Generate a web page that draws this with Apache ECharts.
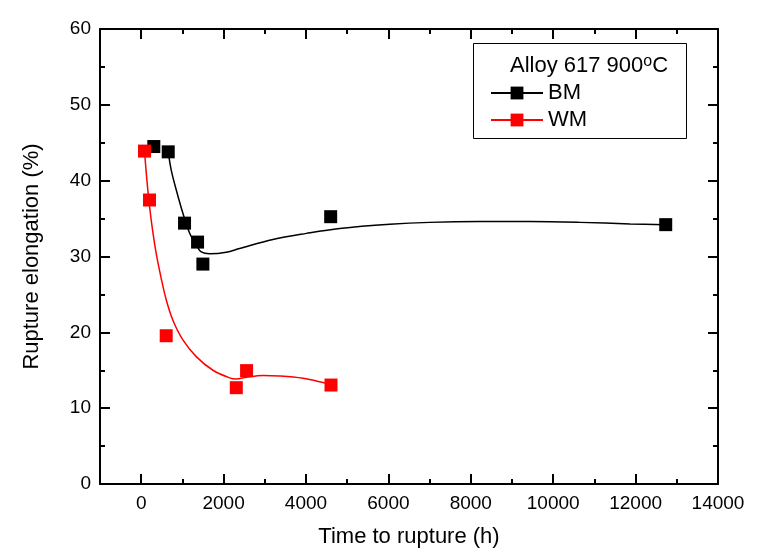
<!DOCTYPE html>
<html><head><meta charset="utf-8">
<script src="https://cdn.jsdelivr.net/npm/echarts@6/dist/echarts.min.js"></script>
<style>html,body{margin:0;padding:0;background:#fff}#c{width:761px;height:558px}</style>
</head><body><div id="c"></div>
<script>
// ---- data ----
const xMajorTicks = [0, 2000, 4000, 6000, 8000, 10000, 12000, 14000];
const xMinorTicks = [1000, 3000, 5000, 7000, 9000, 11000, 13000];

const bmTime  = [306, 656, 1052, 1368, 1497, 4599, 12731];
const bmElong = [44.5, 43.8, 34.4, 31.9, 29.0, 35.25, 34.2];

const wmTime  = [80, 202, 607, 2308, 2558, 4607];
const wmElong = [43.9, 37.45, 19.55, 12.7, 14.95, 13.05];

// fitted curves
const bmFitTime  = [656, 729, 850, 1012, 1174, 1336, 1458, 1659, 2065, 2388, 3197, 4009, 4818, 6033, 7005, 8220, 9434, 10649, 11864, 12731];
const bmFitElong = [43.8, 41.4, 38.8, 35.7, 33.1, 31.5, 30.6, 30.35, 30.55, 31.05, 32.25, 33.05, 33.7, 34.25, 34.5, 34.6, 34.6, 34.5, 34.3, 34.2];

const wmFitTime  = [80, 160, 243, 364, 486, 607, 769, 1012, 1336, 1741, 2145, 2308, 2551, 2955, 3360, 3926, 4494, 4607];
const wmFitElong = [43.9, 38.8, 34.8, 30.4, 27.1, 24.3, 21.6, 19.0, 16.8, 15.0, 14.0, 13.85, 14.07, 14.3, 14.24, 13.94, 13.28, 13.15];

const seriesNames = ['BM', 'WM'];
const legendTitle = 'Alloy 617 900';
const xName = 'Time to rupture (h)';
const yName = 'Rupture elongation (%)';

// ---- chart ----
const zip = (a, b) => a.map((v, i) => [v, b[i]]);
const FONT = 'Arial, "Liberation Sans", sans-serif';
const BLACK = '#000000', RED = '#ff0000';
const chart = echarts.init(document.getElementById('c'), null, {renderer: 'canvas'});

function xAxisDef(position, tickValues, tickLen, showLabel, showLine) {
  return {
    type: 'value', position: position, min: -1000, max: 14000, interval: 1000,
    axisLine: {show: showLine, onZero: false, lineStyle: {color: BLACK, width: 2}},
    axisTick: {show: true, inside: true, length: tickLen, customValues: tickValues, lineStyle: {color: BLACK, width: 2}},
    axisLabel: {show: showLabel, customValues: xMajorTicks, color: BLACK, fontFamily: FONT, fontSize: 19, margin: 10,
      formatter: v => String(v)},
    splitLine: {show: false}
  };
}
function yAxisDef(position, showLabel) {
  return {
    type: 'value', position: position, min: 0, max: 60, interval: 10,
    axisLine: {show: true, onZero: false, lineStyle: {color: BLACK, width: 2}},
    axisTick: {show: true, inside: true, length: 10, lineStyle: {color: BLACK, width: 2}},
    minorTick: {show: true, splitNumber: 2, length: 5, lineStyle: {color: BLACK, width: 2}},
    axisLabel: {show: showLabel, color: BLACK, fontFamily: FONT, fontSize: 19, margin: 9},
    splitLine: {show: false}, minorSplitLine: {show: false}
  };
}

const xAxes = [
  xAxisDef('bottom', xMajorTicks, 10, true, true),
  xAxisDef('bottom', xMinorTicks, 5, false, false),
  xAxisDef('top', xMajorTicks, 10, false, true),
  xAxisDef('top', xMinorTicks, 5, false, false)
];
Object.assign(xAxes[0], {name: xName, nameLocation: 'middle', nameGap: 42,
  nameTextStyle: {color: BLACK, fontFamily: FONT, fontSize: 22}});
const yAxes = [yAxisDef('left', true), yAxisDef('right', false)];
Object.assign(yAxes[0], {name: yName, nameLocation: 'middle', nameGap: 57,
  nameTextStyle: {color: BLACK, fontFamily: FONT, fontSize: 22}});

chart.setOption({
  animation: false,
  backgroundColor: '#ffffff',
  grid: {left: 100, right: 43, top: 29, bottom: 74, containLabel: false},
  xAxis: xAxes,
  yAxis: yAxes,
  legend: {
    data: seriesNames, orient: 'vertical', left: 490, top: 82, padding: 0,
    itemWidth: 52, itemHeight: 16, itemGap: 5, selectedMode: false,
    textStyle: {color: BLACK, fontFamily: FONT, fontSize: 22, lineHeight: 22}
  },
  graphic: [
    {type: 'rect', shape: {x: 473.5, y: 43.5, width: 213, height: 95},
     style: {fill: 'none', stroke: BLACK, lineWidth: 1}, z: 10},
    {type: 'text', x: 510, y: 66, z: 10, style: {
      text: '{n|' + legendTitle + '}{s|o}{n|C}', verticalAlign: 'middle', align: 'left',
      rich: {
        n: {fontSize: 22, fontFamily: FONT, fill: BLACK, lineHeight: 24},
        s: {fontSize: 16, fontFamily: FONT, fill: BLACK, lineHeight: 14, verticalAlign: 'top'}
      }}}
  ],
  series: [
    {name: seriesNames[0], type: 'line', data: zip(bmFitTime, bmFitElong), smooth: 0.35,
     symbol: 'rect', showSymbol: false, lineStyle: {color: BLACK, width: 1.5}, itemStyle: {color: BLACK}, z: 2},
    {name: seriesNames[1], type: 'line', data: zip(wmFitTime, wmFitElong), smooth: 0.35,
     symbol: 'rect', showSymbol: false, lineStyle: {color: RED, width: 1.5}, itemStyle: {color: RED}, z: 2},
    {name: 'BM points', type: 'scatter', data: zip(bmTime, bmElong), symbol: 'rect', symbolSize: 13,
     itemStyle: {color: BLACK, opacity: 1}, z: 3},
    {name: 'WM points', type: 'scatter', data: zip(wmTime, wmElong), symbol: 'rect', symbolSize: 13,
     itemStyle: {color: RED, opacity: 1}, z: 3}
  ]
});
</script></body></html>
